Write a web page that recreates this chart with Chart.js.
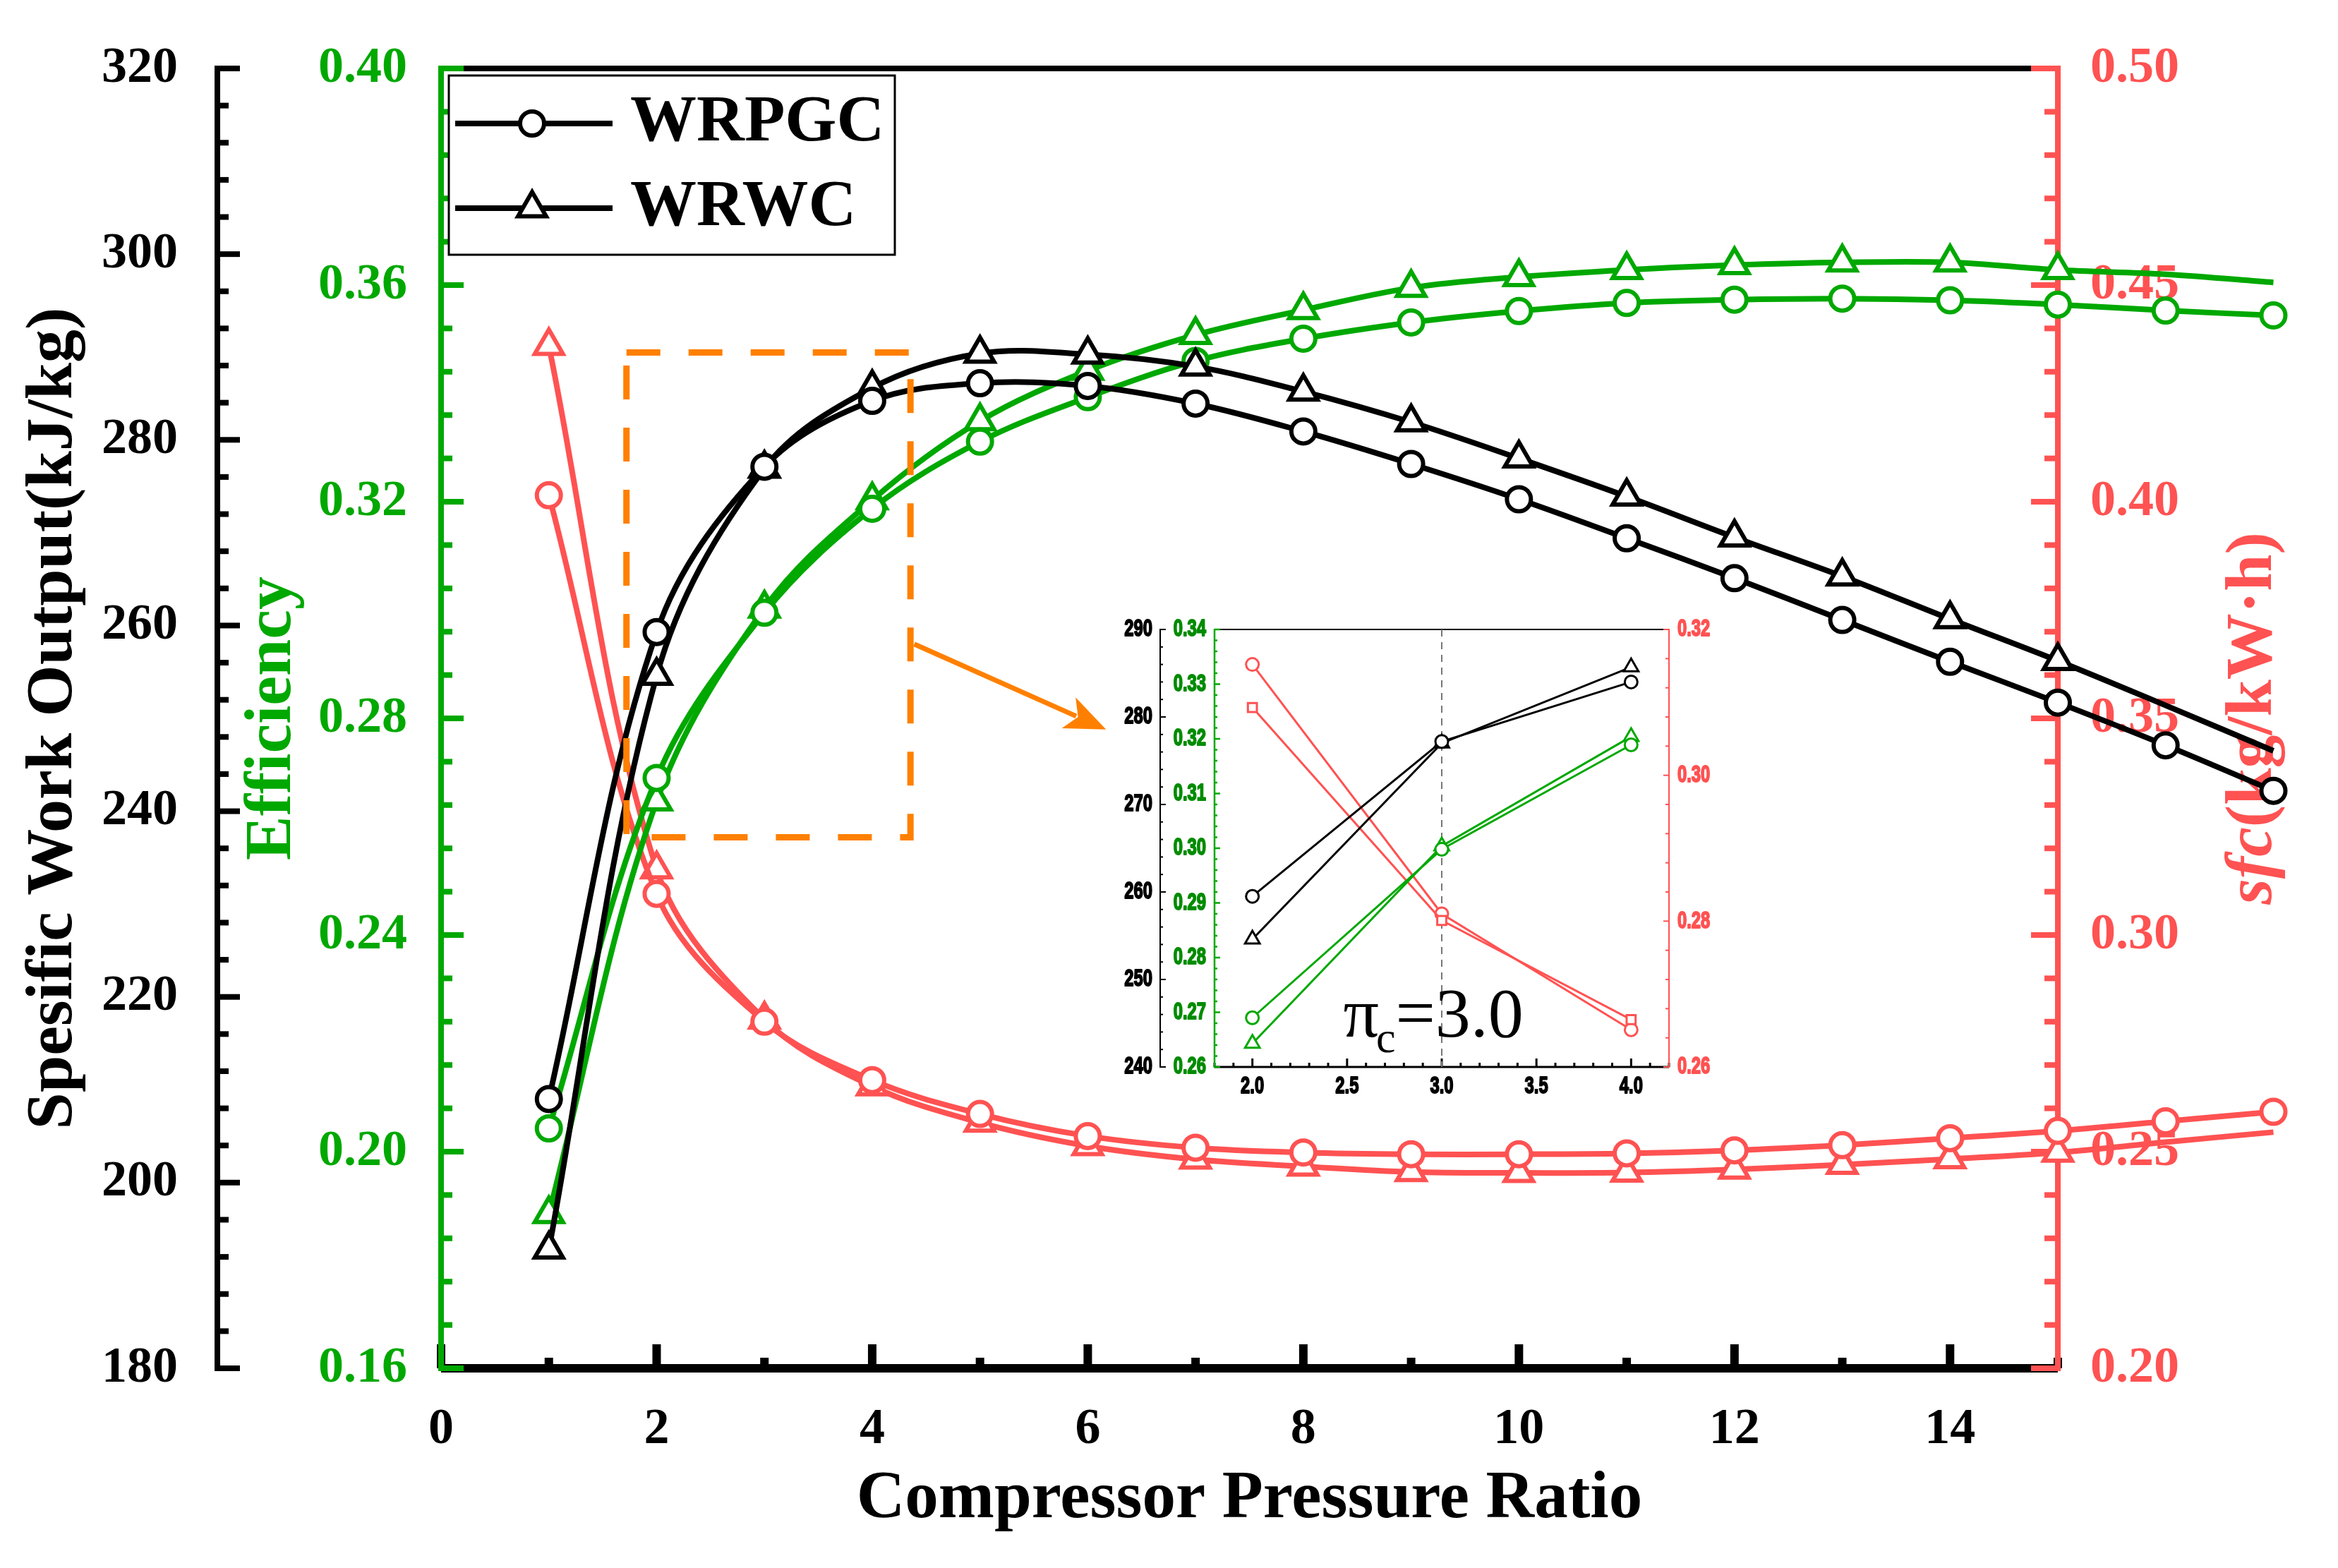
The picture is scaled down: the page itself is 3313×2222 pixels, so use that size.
<!DOCTYPE html>
<html>
<head>
<meta charset="utf-8">
<title>Compressor pressure ratio</title>
<script src="https://cdn.jsdelivr.net/npm/chart.js@4.4.1/dist/chart.umd.min.js"></script>
<style>
  html, body { margin: 0; padding: 0; background: #fff; }
  #main { position: absolute; left: 0; top: 0; width: 3313px; height: 2222px; }
  #inset { position: absolute; left: 1570px; top: 860px; width: 880px; height: 720px; }
</style>
</head>
<body>
<div id="main"><canvas id="mainChart"></canvas></div>
<div id="inset"><canvas id="insetChart"></canvas></div>
<script>
// main chart data
const ratio = [1, 2, 3, 4, 5, 6, 7, 8, 9, 10, 11, 12, 13, 14, 15, 16, 17];
const workWRPGC = [209.0, 259.3, 277.1, 284.2, 286.1, 285.8, 283.9, 280.9, 277.4, 273.6, 269.4, 265.1, 260.6, 256.1, 251.7, 247.1, 242.2];
const workWRWC  = [192.8, 254.6, 276.9, 285.6, 289.3, 289.2, 287.9, 285.2, 281.9, 278.0, 273.9, 269.5, 265.3, 260.7, 256.2, 251.4, 246.5];
const effWRPGC  = [0.2043, 0.2690, 0.2995, 0.3187, 0.3311, 0.3393, 0.3460, 0.3501, 0.3531, 0.3552, 0.3567, 0.3573, 0.3575, 0.3572, 0.3564, 0.3553, 0.3544];
const effWRWC   = [0.1885, 0.2647, 0.3003, 0.3203, 0.3349, 0.3442, 0.3508, 0.3554, 0.3595, 0.3615, 0.3628, 0.3637, 0.3642, 0.3642, 0.3628, 0.3620, 0.3605];
const sfcWRPGC  = [0.4015, 0.3095, 0.2800, 0.2665, 0.2587, 0.2536, 0.2509, 0.2498, 0.2494, 0.2494, 0.2496, 0.2503, 0.2515, 0.2531, 0.2548, 0.2570, 0.2592];
const sfcWRWC   = [0.4360, 0.3152, 0.2805, 0.2651, 0.2567, 0.2513, 0.2482, 0.2466, 0.2453, 0.2451, 0.2452, 0.2459, 0.2470, 0.2483, 0.2498, 0.2522, 0.2545];

const xTicks = [0, 2, 4, 6, 8, 10, 12, 14];
const workTicks = [180, 200, 220, 240, 260, 280, 300, 320];
const effTicks = [0.16, 0.20, 0.24, 0.28, 0.32, 0.36, 0.40];
const sfcTicks = [0.20, 0.25, 0.30, 0.35, 0.40, 0.45, 0.50];

// inset (zoom around pi_c = 3)
const insetRatio = [2, 3, 4];
const insetWorkWRPGC = [259.5, 277.2, 284.0];
const insetWorkWRWC  = [254.6, 277.0, 285.7];
const insetEffWRPGC  = [0.2690, 0.2998, 0.3189];
const insetEffWRWC   = [0.2643, 0.3004, 0.3204];
const insetSfcWRPGC  = [0.3093, 0.2801, 0.2665];
const insetSfcWRWC   = [0.3152, 0.2810, 0.2651];
const insetXTicks = [2, 2.5, 3, 3.5, 4];

const BLACK = '#000000', GREEN = '#00a800', RED = '#ff5252', ORANGE = '#ff8000';
const SERIF = "'Liberation Serif', 'Times New Roman', serif";
const SANS = "'Liberation Sans', Arial, sans-serif";

Chart.defaults.font.family = SERIF;
Chart.defaults.font.weight = 'bold';
Chart.defaults.color = BLACK;

function seg(ctx, x1, y1, x2, y2) {
  ctx.beginPath(); ctx.moveTo(x1, y1); ctx.lineTo(x2, y2); ctx.stroke();
}

function marker(ctx, style, x, y, r) {
  ctx.beginPath();
  if (style === 'triangle') {
    for (let k = 0; k < 3; k++) {
      const a = k * 2 * Math.PI / 3;
      const px = x + Math.sin(a) * r, py = y - Math.cos(a) * r;
      if (k) ctx.lineTo(px, py); else ctx.moveTo(px, py);
    }
    ctx.closePath();
  } else {
    ctx.arc(x, y, r, 0, Math.PI * 2);
  }
  ctx.fill(); ctx.stroke();
}

// axis lines and inward ticks (major + minor)
const frame = {
  id: 'frame',
  beforeDatasetsDraw(chart, args, o) {
    const ctx = chart.ctx, a = chart.chartArea;
    ctx.save();
    ctx.lineCap = 'butt';
    ctx.strokeStyle = BLACK;
    ctx.lineWidth = o.topWidth;
    seg(ctx, a.left, a.top, a.right, a.top);
    o.axes.forEach(ax => {
      const s = chart.scales[ax.id];
      const horiz = s.isHorizontal();
      const base = ax.at === 'left' ? s.left : ax.at === 'right' ? s.right : s.top;
      ctx.strokeStyle = ax.color;
      ctx.lineWidth = ax.width;
      if (horiz) seg(ctx, a.left, base, a.right, base);
      else seg(ctx, base, a.top - o.topWidth / 2, base, a.bottom + ax.width / 2);
      const n = Math.round((s.max - s.min) / ax.minor);
      for (let i = 0; i <= n; i++) {
        const v = s.min + i * ax.minor;
        const q = v / ax.major;
        const len = Math.abs(q - Math.round(q)) < 1e-6 ? ax.majorLen : ax.minorLen;
        const p = s.getPixelForValue(v);
        if (horiz) seg(ctx, p, base, p, base - len);
        else seg(ctx, base, p, base + ax.dir * len, p);
      }
    });
    ctx.restore();
  }
};

// markers that sit right of the x axis end (Chart.js skips points outside the plot area)
const outsidePoints = {
  id: 'outsidePoints',
  afterDatasetsDraw(chart) {
    const a = chart.chartArea;
    const whole = { left: 0, top: 0, right: chart.width, bottom: chart.height };
    chart.data.datasets.forEach((ds, i) => {
      chart.getDatasetMeta(i).data.forEach(el => {
        if (el.x > a.right + 1) el.draw(chart.ctx, whole);
      });
    });
  }
};

// boxed legend in the top-left corner of the plot
const boxLegend = {
  id: 'boxLegend',
  afterDatasetsDraw(chart, args, o) {
    const ctx = chart.ctx, a = chart.chartArea;
    const x0 = a.left + o.x, y0 = a.top + o.y;
    ctx.save();
    ctx.fillStyle = '#fff';
    ctx.fillRect(x0, y0, o.w, o.h);
    ctx.strokeStyle = BLACK; ctx.lineWidth = 3;
    ctx.strokeRect(x0, y0, o.w, o.h);
    o.items.forEach((idx, k) => {
      const ds = chart.data.datasets[idx];
      const cy = y0 + o.firstRow + k * o.rowGap;
      ctx.strokeStyle = ds.borderColor; ctx.lineWidth = ds.borderWidth;
      seg(ctx, x0 + o.lineFrom, cy, x0 + o.lineTo, cy);
      ctx.fillStyle = '#fff'; ctx.lineWidth = ds.pointBorderWidth;
      marker(ctx, ds.pointStyle, x0 + o.markX, cy, ds.pointStyle === 'triangle' ? 23 : 17);
      ctx.fillStyle = BLACK;
      ctx.font = `bold ${o.size}px ${SERIF}`;
      ctx.textBaseline = 'middle'; ctx.textAlign = 'left';
      ctx.fillText(ds.label, x0 + o.textX, cy);
    });
    ctx.restore();
  }
};

// orange dashed zoom box and arrow pointing to the inset (data coordinates)
const zoomBox = { x: [1.72, 4.355], work: [237.2, 289.4] };
const zoomArrow = { from: [4.39, 258.0], to: [6.17, 248.8] };
const zoomMark = {
  id: 'zoomMark',
  afterDatasetsDraw(chart) {
    const ctx = chart.ctx, sx = chart.scales.x, sy = chart.scales.yW;
    const l = sx.getPixelForValue(zoomBox.x[0]), r = sx.getPixelForValue(zoomBox.x[1]);
    const t = sy.getPixelForValue(zoomBox.work[1]), b = sy.getPixelForValue(zoomBox.work[0]);
    ctx.save();
    ctx.strokeStyle = ORANGE; ctx.lineWidth = 9;
    ctx.setLineDash([48, 40]);
    ctx.strokeRect(l, t, r - l, b - t);
    ctx.setLineDash([]);
    const x1 = sx.getPixelForValue(zoomArrow.from[0]), y1 = sy.getPixelForValue(zoomArrow.from[1]);
    const x2 = sx.getPixelForValue(zoomArrow.to[0]), y2 = sy.getPixelForValue(zoomArrow.to[1]);
    const ang = Math.atan2(y2 - y1, x2 - x1);
    const hl = 58, hw = 24;
    ctx.lineWidth = 7;
    seg(ctx, x1, y1, x2 - Math.cos(ang) * hl * 0.8, y2 - Math.sin(ang) * hl * 0.8);
    ctx.fillStyle = ORANGE;
    ctx.beginPath();
    ctx.moveTo(x2, y2);
    ctx.lineTo(x2 - Math.cos(ang) * hl - Math.sin(ang) * hw, y2 - Math.sin(ang) * hl + Math.cos(ang) * hw);
    ctx.lineTo(x2 - Math.cos(ang) * hl * 0.75, y2 - Math.sin(ang) * hl * 0.75);
    ctx.lineTo(x2 - Math.cos(ang) * hl + Math.sin(ang) * hw, y2 - Math.sin(ang) * hl - Math.cos(ang) * hw);
    ctx.closePath();
    ctx.fill();
    ctx.restore();
  }
};

// right axis title, reading upward, with italic "sfc"
const sideTitle = {
  id: 'sideTitle',
  beforeDatasetsDraw(chart, args, o) {
    const s = chart.scales[o.axis], ctx = chart.ctx;
    ctx.save();
    ctx.translate(s.left + o.offset, (s.top + s.bottom) / 2);
    ctx.rotate(-Math.PI / 2);
    ctx.fillStyle = o.color; ctx.textBaseline = 'middle'; ctx.textAlign = 'left';
    const fonts = o.parts.map(p => `${p.italic ? 'italic ' : ''}bold ${o.size}px ${SERIF}`);
    const widths = o.parts.map((p, i) => { ctx.font = fonts[i]; return ctx.measureText(p.text).width; });
    let x = -widths.reduce((m, w) => m + w, 0) / 2;
    o.parts.forEach((p, i) => { ctx.font = fonts[i]; ctx.fillText(p.text, x, 0); x += widths[i]; });
    ctx.restore();
  }
};

function series(label, values, yAxisID, color, style) {
  return {
    label, yAxisID,
    data: ratio.map((r, i) => ({ x: r, y: values[i] })),
    borderColor: color, borderWidth: 8, tension: 0.35, fill: false, clip: false,
    pointStyle: style,
    pointRadius: c => (style === 'triangle' && c.raw && c.raw.x > 15) ? 0 : (style === 'triangle' ? 23 : 17),
    pointBorderColor: color, pointBackgroundColor: '#fff', pointBorderWidth: 6
  };
}

const noGrid = { display: false };
const noBorder = { display: false };

new Chart(document.getElementById('mainChart'), {
  type: 'line',
  data: {
    datasets: [
      series('WRPGC', workWRPGC, 'yW', BLACK, 'circle'),
      series('WRWC', workWRWC, 'yW', BLACK, 'triangle'),
      series('WRPGC', effWRPGC, 'yE', GREEN, 'circle'),
      series('WRWC', effWRWC, 'yE', GREEN, 'triangle'),
      series('WRPGC', sfcWRPGC, 'yS', RED, 'circle'),
      series('WRWC', sfcWRWC, 'yS', RED, 'triangle')
    ]
  },
  options: {
    responsive: true, maintainAspectRatio: false, animation: false, devicePixelRatio: 1,
    layout: { padding: { top: 97, left: 0, right: 0, bottom: 0 } },
    plugins: {
      legend: { display: false },
      tooltip: { enabled: false },
      frame: {
        topWidth: 8,
        axes: [
          { id: 'x', at: 'top', color: BLACK, width: 12, major: 2, minor: 1, majorLen: 34, minorLen: 15 },
          { id: 'yW', at: 'right', dir: 1, color: BLACK, width: 8, major: 20, minor: 4, majorLen: 32, minorLen: 16 },
          { id: 'yE', at: 'right', dir: 1, color: GREEN, width: 8, major: 0.04, minor: 0.008, majorLen: 32, minorLen: 16 },
          { id: 'yS', at: 'left', dir: -1, color: RED, width: 8, major: 0.05, minor: 0.01, majorLen: 38, minorLen: 19 }
        ]
      },
      boxLegend: { items: [0, 1], x: 11, y: 10, w: 632, h: 254, firstRow: 68, rowGap: 120,
                   lineFrom: 9, lineTo: 232, markX: 118, textX: 257, size: 94 },
      sideTitle: { axis: 'yS', offset: 278, size: 94, color: RED,
                   parts: [{ text: 'sfc', italic: true }, { text: '(kg/kW·h)' }] }
    },
    scales: {
      x: {
        type: 'linear', position: 'bottom',
        afterDataLimits: s => { s.min = 0; s.max = 15; },
        afterFit: s => { s.height = 283; },
        grid: noGrid, border: noBorder,
        ticks: { stepSize: 1, autoSkip: false, maxRotation: 0, padding: 36, font: { size: 72 }, color: BLACK,
                 callback: v => xTicks.includes(v) ? String(v) : '' },
        title: { display: true, text: 'Compressor Pressure Ratio', color: BLACK, font: { size: 95 },
                 padding: { top: 0, bottom: 40 } }
      },
      yW: {
        type: 'linear', position: 'left', weight: 2,
        min: workTicks[0], max: workTicks[workTicks.length - 1],
        afterFit: s => { s.width = 308; },
        grid: noGrid, border: noBorder,
        ticks: { stepSize: workTicks[1] - workTicks[0], padding: 48, font: { size: 72 }, color: BLACK },
        title: { display: true, text: 'Spesific Work Output(kJ/kg)', color: BLACK, font: { size: 94 },
                 padding: { top: 20, bottom: 0 } }
      },
      yE: {
        type: 'linear', position: 'left', weight: 1,
        min: effTicks[0], max: effTicks[effTicks.length - 1],
        afterFit: s => { s.width = 317; },
        grid: noGrid, border: noBorder,
        ticks: { stepSize: 0.04, padding: 40, font: { size: 72 }, color: GREEN, callback: v => v.toFixed(2) },
        title: { display: true, text: 'Efficiency', color: GREEN, font: { size: 94 },
                 padding: { top: 22, bottom: 0 } }
      },
      yS: {
        type: 'linear', position: 'right',
        min: sfcTicks[0], max: sfcTicks[sfcTicks.length - 1],
        afterFit: s => { s.width = 397; },
        grid: noGrid, border: noBorder,
        ticks: { stepSize: 0.05, padding: 38, font: { size: 72 }, color: RED, callback: v => v.toFixed(2) }
      }
    }
  },
  plugins: [frame, sideTitle, outsidePoints, boxLegend, zoomMark]
});

// inset chart
const insetNote = {
  id: 'insetNote',
  beforeDatasetsDraw(chart, args, o) {
    const ctx = chart.ctx, a = chart.chartArea, sx = chart.scales.x, sw = chart.scales.w;
    const px = sx.getPixelForValue(o.at);
    ctx.save();
    ctx.strokeStyle = '#777'; ctx.lineWidth = 2; ctx.setLineDash([10, 8]);
    seg(ctx, px, a.top, px, a.bottom);
    ctx.setLineDash([]);
    let x = sx.getPixelForValue(o.labelX);
    const y = sw.getPixelForValue(o.labelW);
    ctx.fillStyle = BLACK; ctx.textBaseline = 'alphabetic'; ctx.textAlign = 'left';
    ctx.font = `normal 100px ${SERIF}`;
    ctx.fillText('π', x, y); x += ctx.measureText('π').width - 4;
    ctx.font = `normal 62px ${SERIF}`;
    ctx.fillText('c', x, y + 22); x += ctx.measureText('c').width;
    ctx.font = `normal 100px ${SERIF}`;
    ctx.fillText('=3.0', x, y);
    ctx.restore();
  }
};

// condensed, heavy tick labels of the inset (drawn from the scales' own ticks)
const narrowLabels = {
  id: 'narrowLabels',
  afterDraw(chart, args, o) {
    const ctx = chart.ctx;
    ctx.save();
    ctx.font = `bold ${o.size}px ${SANS}`;
    ctx.textBaseline = 'middle';
    ctx.lineWidth = o.weight;
    ctx.lineJoin = 'round';
    o.axes.forEach(ax => {
      const s = chart.scales[ax.id];
      ctx.fillStyle = ax.color;
      ctx.strokeStyle = ax.color;
      s.ticks.forEach(t => {
        if (!t.label) return;
        const p = s.getPixelForValue(t.value);
        let x, y;
        if (ax.side === 'bottom') { x = p; y = s.top + ax.pad; ctx.textAlign = 'center'; }
        else if (ax.side === 'left') { x = s.right - ax.pad; y = p; ctx.textAlign = 'right'; }
        else { x = s.left + ax.pad; y = p; ctx.textAlign = 'left'; }
        ctx.save();
        ctx.translate(x, y);
        ctx.scale(o.squeeze, 1);
        ctx.fillText(t.label, 0, 0);
        ctx.strokeText(t.label, 0, 0);
        ctx.restore();
      });
    });
    ctx.restore();
  }
};

function insetSeries(values, yAxisID, color, style) {
  return {
    yAxisID,
    data: insetRatio.map((r, i) => ({ x: r, y: values[i] })),
    borderColor: color, borderWidth: 3, tension: 0, fill: false, clip: false,
    pointStyle: style, pointRadius: style === 'triangle' ? 12 : 9,
    pointBorderColor: color, pointBackgroundColor: '#fff', pointBorderWidth: 3
  };
}

new Chart(document.getElementById('insetChart'), {
  type: 'line',
  data: {
    datasets: [
      insetSeries(insetWorkWRPGC, 'w', BLACK, 'circle'),
      insetSeries(insetWorkWRWC, 'w', BLACK, 'triangle'),
      insetSeries(insetEffWRPGC, 'e', GREEN, 'circle'),
      insetSeries(insetEffWRWC, 'e', GREEN, 'triangle'),
      insetSeries(insetSfcWRPGC, 's', RED, 'rect'),
      insetSeries(insetSfcWRWC, 's', RED, 'circle')
    ]
  },
  options: {
    responsive: true, maintainAspectRatio: false, animation: false, devicePixelRatio: 1,
    layout: { padding: { top: 32, left: 0, right: 0, bottom: 0 } },
    plugins: {
      legend: { display: false },
      tooltip: { enabled: false },
      frame: {
        topWidth: 2,
        axes: [
          { id: 'x', at: 'top', color: BLACK, width: 3, major: 0.5, minor: 0.1, majorLen: 12, minorLen: 6 },
          { id: 'w', at: 'right', dir: 1, color: BLACK, width: 2, major: 10, minor: 2, majorLen: 8, minorLen: 4 },
          { id: 'e', at: 'right', dir: 1, color: GREEN, width: 2.5, major: 0.01, minor: 0.002, majorLen: 8, minorLen: 4 },
          { id: 's', at: 'left', dir: -1, color: RED, width: 2, major: 0.02, minor: 0.004, majorLen: 8, minorLen: 5 }
        ]
      },
      insetNote: { at: 3, labelX: 2.48, labelW: 243.5 },
      narrowLabels: {
        size: 34, squeeze: 0.7, weight: 2,
        axes: [
          { id: 'x', side: 'bottom', pad: 28, color: BLACK },
          { id: 'w', side: 'left', pad: 11, color: BLACK },
          { id: 'e', side: 'left', pad: 12, color: '#008c00' },
          { id: 's', side: 'right', pad: 12, color: RED }
        ]
      }
    },
    scales: {
      x: {
        type: 'linear', position: 'bottom', min: 1.8, max: 4.2,
        afterFit: s => { s.height = 68; },
        grid: noGrid, border: noBorder,
        ticks: { display: false, stepSize: 0.5, includeBounds: false, autoSkip: false,
                 callback: v => insetXTicks.includes(v) ? v.toFixed(1) : '' }
      },
      w: {
        type: 'linear', position: 'left', weight: 2, min: 240, max: 290,
        afterFit: s => { s.width = 74; },
        grid: noGrid, border: noBorder,
        ticks: { display: false, stepSize: 10, callback: v => String(v) }
      },
      e: {
        type: 'linear', position: 'left', weight: 1, min: 0.26, max: 0.34,
        afterFit: s => { s.width = 77; },
        grid: noGrid, border: noBorder,
        ticks: { display: false, stepSize: 0.01, callback: v => v.toFixed(2) }
      },
      s: {
        type: 'linear', position: 'right', min: 0.26, max: 0.32,
        afterFit: s => { s.width = 85; },
        grid: noGrid, border: noBorder,
        ticks: { display: false, stepSize: 0.02, callback: v => v.toFixed(2) }
      }
    }
  },
  plugins: [frame, insetNote, narrowLabels]
});
</script>
</body>
</html>
